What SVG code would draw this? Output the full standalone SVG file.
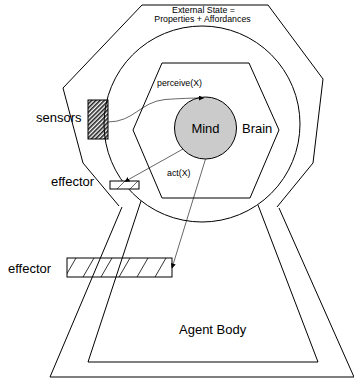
<svg xmlns="http://www.w3.org/2000/svg" width="354" height="381" viewBox="0 0 354 381">
  <style>
    .ln { fill: none; stroke: #000; stroke-width: 1; stroke-linejoin: miter; }
    .thin { fill: none; stroke: #000; stroke-width: 0.6; }
    .lbl { font-family: "Liberation Sans", Arial, sans-serif; fill: #000; }
    .big { font-size: 13px; }
    .small { font-size: 8.8px; }
    .mid { text-anchor: middle; }
  </style>
  <defs>
    <pattern id="denseHatch" patternUnits="userSpaceOnUse" width="3" height="3" patternTransform="rotate(-45)">
      <rect width="3" height="3" fill="#fff"/>
      <rect width="3" height="1.6" fill="#222"/>
    </pattern>
    <pattern id="wideHatch" patternUnits="userSpaceOnUse" x="67" y="258" width="18" height="19">
      <line x1="-2" y1="19" x2="9" y2="0" stroke="#000" stroke-width="0.8"/>
      <line x1="16" y1="19" x2="27" y2="0" stroke="#000" stroke-width="0.8"/>
    </pattern>
    <marker id="arrow" viewBox="0 0 10 10" refX="9" refY="5" markerWidth="5" markerHeight="5" orient="auto" markerUnits="userSpaceOnUse">
      <path d="M0,0 L10,5 L0,10 z" fill="#000"/>
    </marker>
  </defs>

  <rect width="354" height="381" fill="#fff"/>

  <!-- outer shell: head and agent body -->
  <g id="external-state">
    <path class="ln" d="M119,206 L83,163 L63,88 L142,5 L268,5 L323,79 L313,163 L277,207"/>
    <path class="ln" d="M122,207 L50,377 L354,377 L279,208"/>
    <text class="lbl small mid" x="203.5" y="12.5">External State =</text>
    <text class="lbl small mid" x="202.5" y="22">Properties + Affordances</text>
  </g>

  <!-- sensors -->
  <g id="sensors">
    <rect x="88" y="100" width="20" height="39" fill="url(#denseHatch)" stroke="#000" stroke-width="1"/>
    <text class="lbl big" x="36" y="122">sensors</text>
  </g>

  <!-- inner shell: skull circle and body -->
  <g id="agent-body">
    <circle class="ln" cx="202" cy="124" r="98"/>
    <path class="ln" d="M141,201 L88,362 L318,362 L258,205"/>
    <text class="lbl big" x="179" y="334">Agent Body</text>
  </g>

  <!-- brain -->
  <g id="brain">
    <path class="ln" d="M162,63 L249,63 L279,130 L250,198 L162,198 L133,130 Z"/>
    <text class="lbl big" x="242" y="132.5">Brain</text>
  </g>

  <!-- mind -->
  <g id="mind">
    <circle cx="205.5" cy="128" r="31" fill="#cbcbcb" stroke="#000" stroke-width="1"/>
    <text class="lbl big mid" x="205.5" y="133">Mind</text>
  </g>

  <!-- small effector -->
  <g id="effector-small">
    <rect x="110" y="181" width="29" height="8" fill="#fff" stroke="#000" stroke-width="1"/>
    <line class="thin" x1="117" y1="189" x2="125" y2="181" stroke-width="0.8"/>
    <line class="thin" x1="130" y1="189" x2="138" y2="181" stroke-width="0.8"/>
    <text class="lbl big" x="51" y="186">effector</text>
  </g>

  <!-- large effector -->
  <g id="effector-large">
    <rect x="67" y="258" width="105" height="19" fill="url(#wideHatch)" stroke="#000" stroke-width="1"/>
    <text class="lbl big" x="8" y="272.5">effector</text>
  </g>

  <!-- perception and action links -->
  <g id="connectors">
    <path class="thin" d="M108,122 C134,122 140,102 165,99.5 C180,98.5 192,98 203.5,98" marker-end="url(#arrow)"/>
    <line class="thin" x1="183" y1="149" x2="125" y2="181.5" marker-end="url(#arrow)"/>
    <line class="thin" x1="205.5" y1="159" x2="172" y2="268" marker-end="url(#arrow)"/>
    <text class="lbl small" x="157" y="86">perceive(X)</text>
    <text class="lbl small" x="167" y="176">act(X)</text>
  </g>
</svg>
